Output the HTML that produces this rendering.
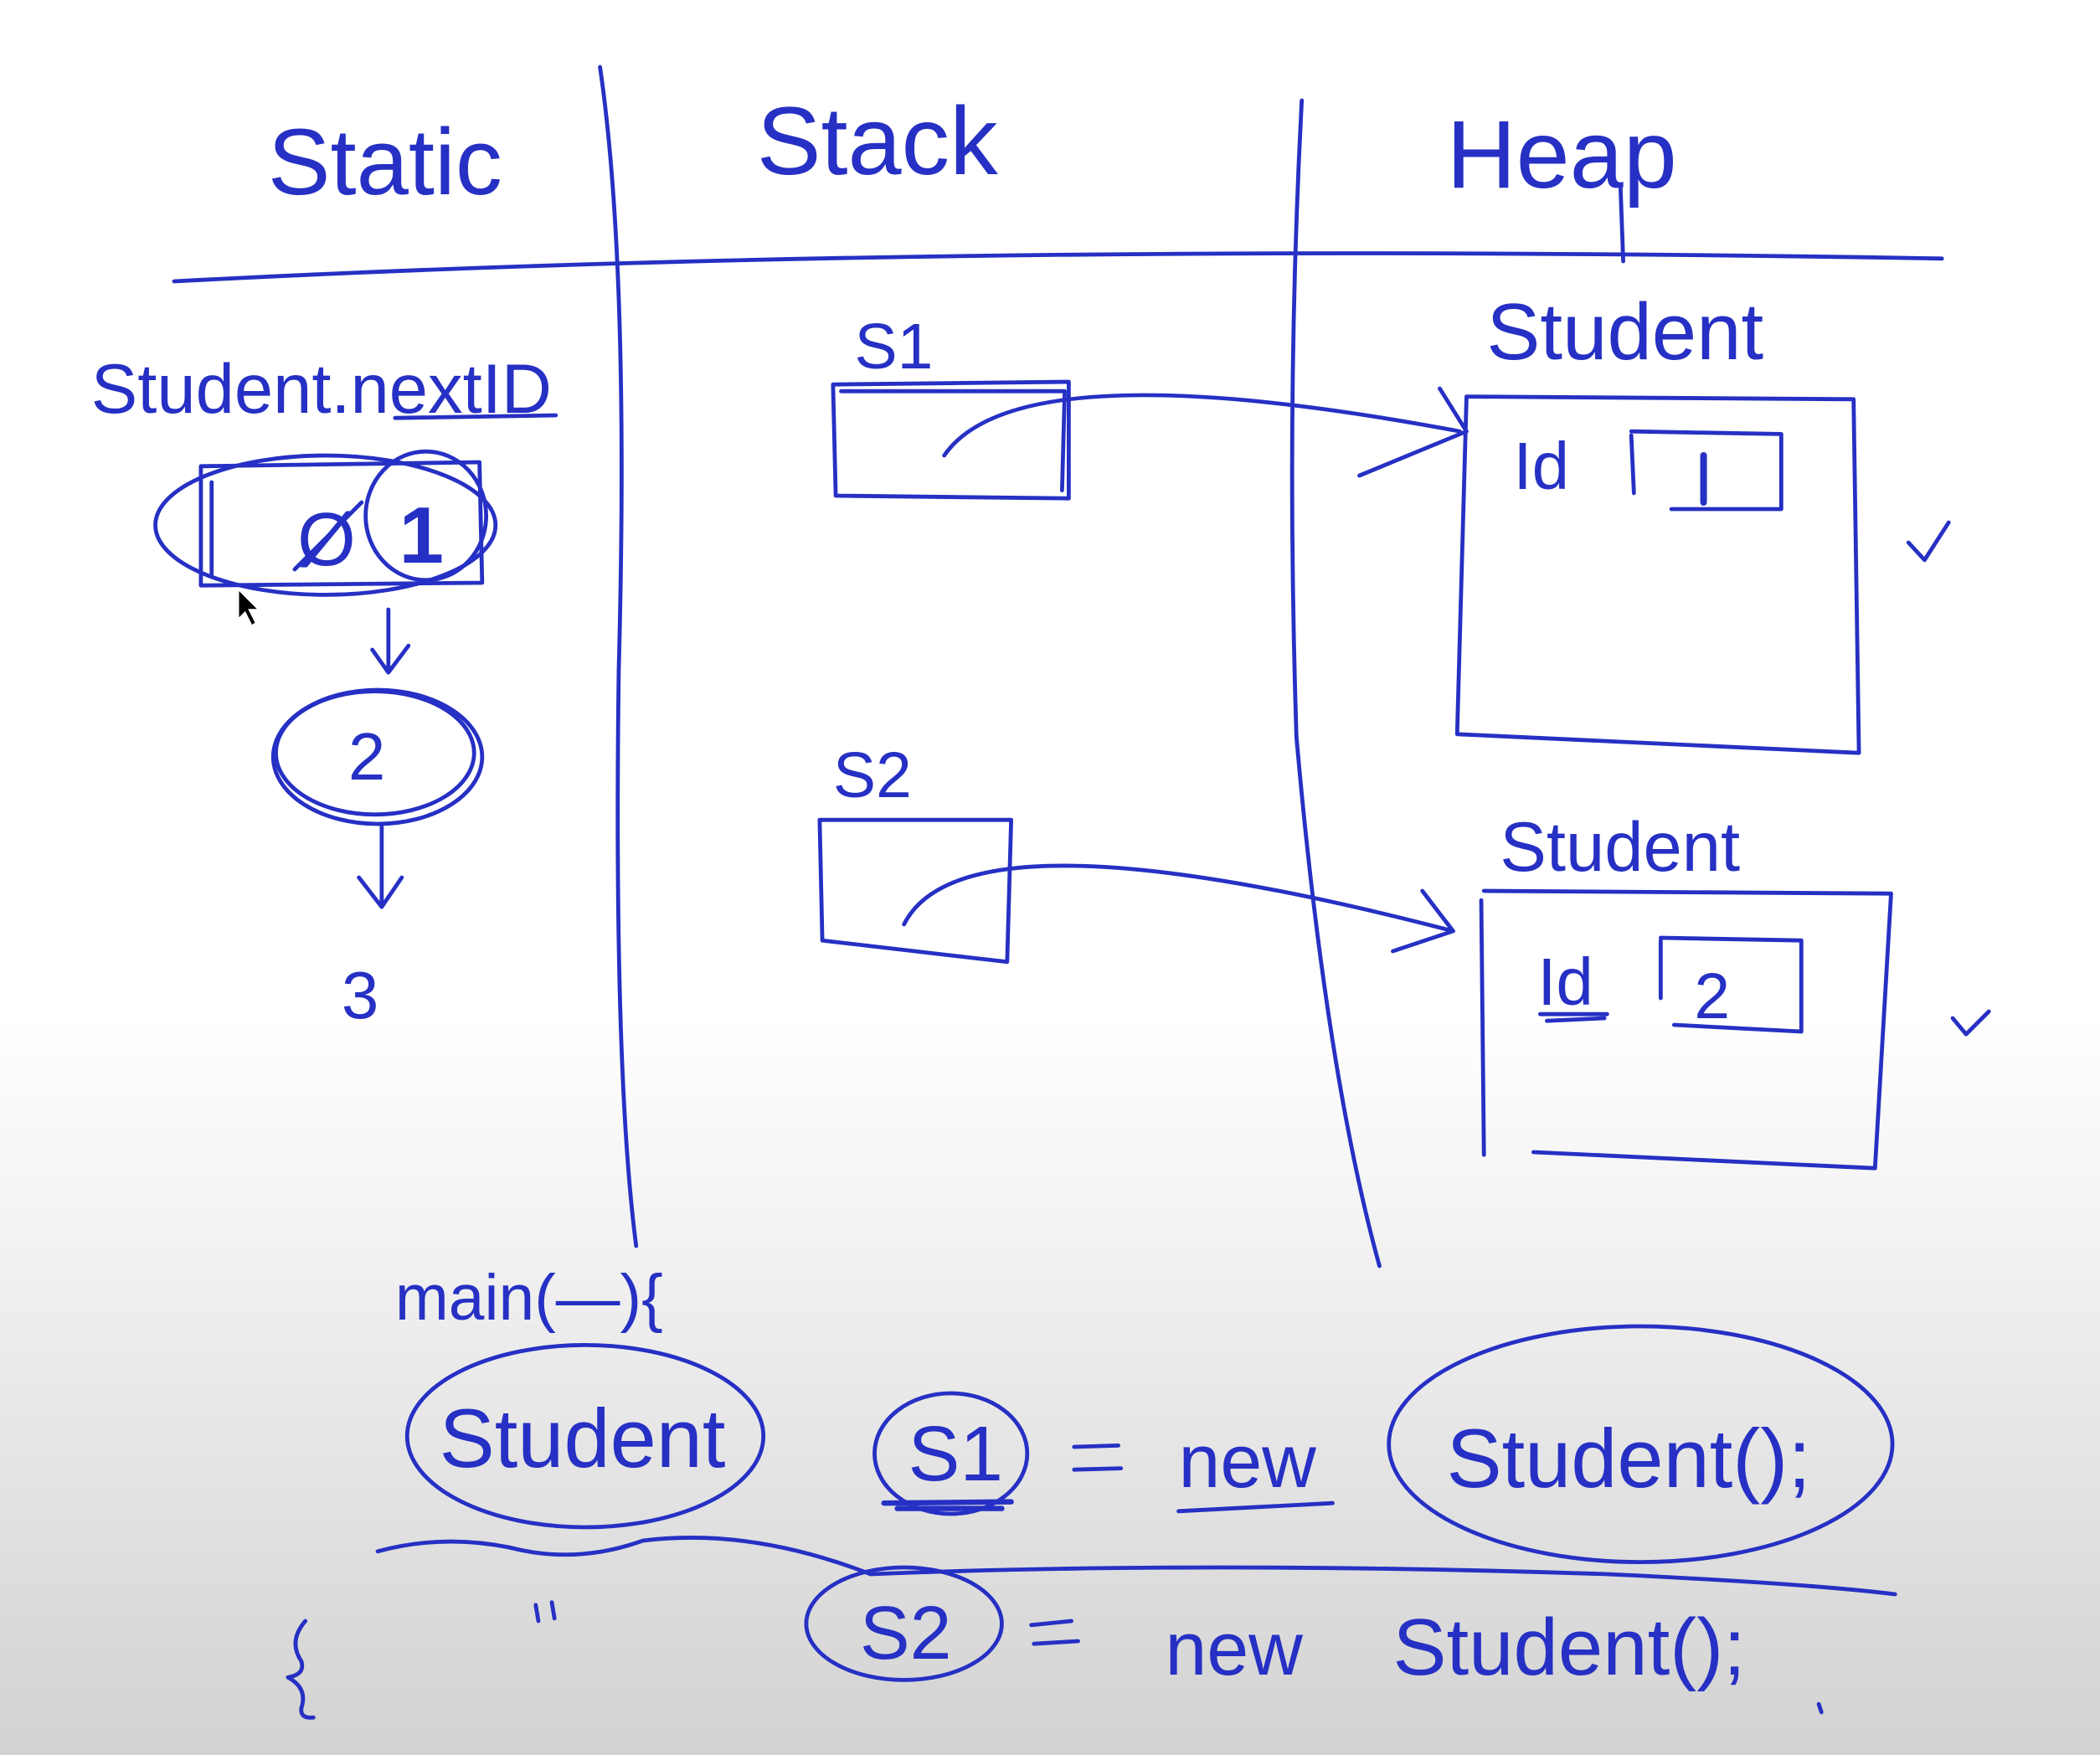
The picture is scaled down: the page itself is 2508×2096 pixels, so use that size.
<!DOCTYPE html>
<html><head><meta charset="utf-8">
<style>
html,body{margin:0;padding:0;width:2508px;height:2096px;overflow:hidden;background:#fff}
svg{display:block}
text{font-family:"Liberation Sans",sans-serif;fill:#2630c4}
</style></head>
<body>
<svg width="2508" height="2096" viewBox="0 0 1568 1310" preserveAspectRatio="none" xmlns="http://www.w3.org/2000/svg">
<defs>
<linearGradient id="bg" x1="0" y1="0" x2="0" y2="1">
<stop offset="0" stop-color="#ffffff"/>
<stop offset="0.58" stop-color="#ffffff"/>
<stop offset="0.8" stop-color="#e8e8e8"/>
<stop offset="1" stop-color="#d2d2d2"/>
</linearGradient>
</defs>
<rect width="1568" height="1310" fill="url(#bg)"/>
<g fill="none" stroke="#2630c4" stroke-width="3" stroke-linecap="round" stroke-linejoin="round">
<path d="M130 210 Q700 180 1450 193"/>
<path d="M448 50 Q470 200 462 500 Q458 800 475 930"/>
<path d="M972 75 Q960 300 968 550 Q990 800 1030 945"/>
<path d="M1210 140 L1212 195"/>
<path d="M295 312 L415 310"/>
<path d="M150 348 L358 345 L360 435 L150 437 Z"/>
<path d="M158 360 L158 430"/>
<ellipse cx="243" cy="392" rx="127" ry="52"/>
<ellipse cx="318" cy="385" rx="45" ry="48"/>
<path d="M220 425 L270 375"/>
<path d="M290 455 L290 500 M278 485 L290 502 L305 482"/>
<ellipse cx="282" cy="565" rx="78" ry="50"/>
<ellipse cx="280" cy="562" rx="74" ry="46"/>
<path d="M285 615 L285 675 M268 655 L285 677 L300 655"/>
<path d="M622 287 L798 285 L798 372 L624 370 Z"/>
<path d="M628 292 L795 292 L793 366"/>
<path d="M705 340 Q760 260 1090 322"/>
<path d="M1075 290 L1095 322 L1015 355"/>
<path d="M612 612 L755 612 L752 718 L614 702 Z"/>
<path d="M675 690 Q720 600 1085 695"/>
<path d="M1062 665 L1085 695 L1040 710"/>
<path d="M1095 296 L1384 298 L1388 562 L1088 548 Z"/>
<path d="M1218 322 L1330 324 L1330 380 L1248 380"/>
<path d="M1218 325 L1220 368"/>
<path d="M1272 340 L1272 375" stroke-width="5"/>
<path d="M1425 405 L1437 418 L1455 390"/>
<path d="M1108 665 L1412 667 L1400 872 L1145 860"/>
<path d="M1106 672 L1108 862"/>
<path d="M1240 700 L1345 702 L1345 770 L1250 765"/>
<path d="M1240 702 L1240 745"/>
<path d="M1150 757 L1200 757 M1155 762 L1198 760"/>
<path d="M1458 760 L1468 772 L1485 755"/>
<ellipse cx="437" cy="1072" rx="133" ry="68"/>
<ellipse cx="710" cy="1085" rx="57" ry="45"/>
<path d="M660 1122 L755 1121 M670 1126 L748 1126" stroke-width="4"/>
<path d="M802 1080 L835 1079 M802 1097 L837 1096"/>
<path d="M880 1128 L995 1122"/>
<ellipse cx="1225" cy="1078" rx="188" ry="88"/>
<path d="M282 1158 Q330 1145 380 1155 Q430 1168 480 1150 Q560 1140 650 1175 Q900 1165 1200 1175 Q1350 1182 1415 1190"/>
<ellipse cx="675" cy="1212" rx="73" ry="42"/>
<path d="M770 1213 L800 1210 M772 1227 L805 1225"/>
<path d="M400 1198 L402 1210 M412 1196 L414 1208"/>
<path d="M228 1210 Q215 1225 225 1240 Q228 1250 215 1252 Q230 1260 225 1275 Q224 1283 234 1282"/>
<path d="M1358 1272 L1360 1278"/>
</g>
<g>
<text x="200" y="145" font-size="70">Static</text>
<text x="565" y="130" font-size="72">Stack</text>
<text x="1080" y="140" font-size="72">Heap</text>
<text x="68" y="308" font-size="52">Student.nextID</text>
<text x="222" y="422" font-size="56">Ø</text>
<text x="298" y="420" font-size="60" font-weight="bold">1</text>
<text x="260" y="582" font-size="50">2</text>
<text x="255" y="760" font-size="50">3</text>
<text x="638" y="275" font-size="48">S1</text>
<text x="622" y="595" font-size="48">S2</text>
<text x="1110" y="268" font-size="60">Student</text>
<text x="1130" y="365" font-size="50">Id</text>
<text x="1120" y="650" font-size="52">Student</text>
<text x="1148" y="750" font-size="50">Id</text>
<text x="1265" y="760" font-size="48">2</text>
<text x="295" y="985" font-size="48">main(—){</text>
<text x="328" y="1095" font-size="62">Student</text>
<text x="678" y="1105" font-size="58">S1</text>
<text x="880" y="1110" font-size="56">new</text>
<text x="1080" y="1110" font-size="62">Student();</text>
<text x="642" y="1238" font-size="56">S2</text>
<text x="870" y="1250" font-size="56">new</text>
<text x="1040" y="1250" font-size="60">Student();</text>
</g>
<path d="M178 440 L178 462 L183 457 L188 467 L191 465 L186 455 L193 455 Z" fill="#000" stroke="#fff" stroke-width="1"/>
</svg>
</body></html>
